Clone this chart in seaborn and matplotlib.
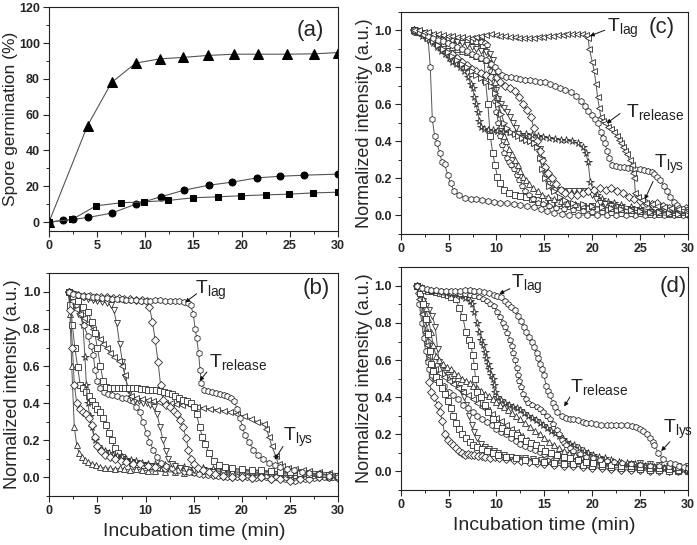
import matplotlib
matplotlib.use("Agg")
import matplotlib.pyplot as plt
import seaborn as sns
from matplotlib.ticker import MultipleLocator

# ---------------- panel (a): spore germination ----------------
A_TRI = [(0, 0), (4.0, 53.9), (6.5, 78.0), (9.0, 88.8), (11.5, 91.2), (13.9, 92.0), (16.5, 93.1),
         (19.2, 93.8), (21.7, 93.8), (24.7, 93.8), (27.5, 94.0), (30, 94.7)]
A_CIRC = [(0, 0), (1.5, 0.9), (2.5, 1.5), (4.1, 2.6), (6.5, 5.0), (9.0, 10.0), (11.6, 14.1),
          (14.0, 17.8), (16.6, 20.6), (19.0, 22.3), (21.6, 24.7), (24.0, 25.6), (26.5, 26.2), (30, 26.8)]
A_SQ = [(0, 0), (2.4, 1.5), (4.9, 9.1), (7.5, 10.8), (9.9, 11.3), (12.4, 12.1), (15.0, 13.6),
        (17.5, 14.1), (19.9, 14.7), (22.5, 15.2), (24.9, 15.6), (27.4, 16.3), (30, 16.7)]

# ---------------- panel (b) ----------------
B_TRI_UP = [(2.0, 1.0), (2.15, 0.88), (2.33, 0.6), (2.6, 0.27), (2.85, 0.175), (3.1, 0.13), (3.4, 0.11),
            (3.7, 0.095), (4.0, 0.085), (4.4, 0.075), (4.8, 0.065), (5.3, 0.055), (5.8, 0.05), (6.3, 0.05),
            (6.8, 0.045), (7.3, 0.05), (7.8, 0.045), (8.4, 0.04), (9.0, 0.045), (9.6, 0.04), (10.3, 0.035),
            (11, 0.035), (12, 0.03), (13, 0.03), (14, 0.025), (15, 0.03), (16, 0.025), (17, 0.02), (18, 0.02),
            (19, 0.02), (20, 0.015), (21, 0.02), (22, 0.015), (23, 0.015), (24, 0.01), (25, 0.01), (26, 0.01),
            (27, 0.005), (28, 0.01), (29, 0.005), (30, 0.0)]
B_SQ_FAST = [(2.0, 1.0), (2.2, 0.93), (2.4, 0.82), (2.65, 0.7), (2.95, 0.595), (3.2, 0.5), (3.5, 0.48),
             (3.8, 0.46), (4.1, 0.44), (4.4, 0.41), (4.7, 0.39), (5.0, 0.37), (5.3, 0.35), (5.6, 0.32),
             (5.9, 0.28), (6.2, 0.24), (6.5, 0.2), (6.8, 0.16), (7.1, 0.13), (7.5, 0.11), (8.0, 0.09),
             (8.6, 0.08), (9.2, 0.07), (9.8, 0.065), (10.5, 0.06), (11.2, 0.055), (12, 0.05), (13, 0.045),
             (14, 0.045), (15, 0.04), (16, 0.04), (17, 0.035), (18, 0.035), (19, 0.03), (20, 0.03), (21, 0.03),
             (22, 0.025), (23, 0.025), (24, 0.02), (25, 0.02), (26, 0.02), (27, 0.015), (28, 0.015), (29, 0.01),
             (30, 0.01)]
B_STAR = [(2.0, 1.0), (2.4, 0.97), (2.8, 0.93), (3.2, 0.88), (3.5, 0.82), (3.7, 0.65), (3.85, 0.5), (4.0, 0.4),
          (4.2, 0.33), (4.4, 0.27), (4.75, 0.2), (5.1, 0.17), (5.45, 0.15), (5.8, 0.14), (6.2, 0.13), (6.6, 0.12),
          (7.0, 0.115), (7.5, 0.11), (8.0, 0.1), (8.5, 0.095), (9.0, 0.09), (9.6, 0.08), (10.2, 0.075), (11, 0.07),
          (12, 0.065), (13, 0.06), (14, 0.055), (15, 0.05), (16, 0.05), (17, 0.045), (18, 0.045), (19, 0.04),
          (20, 0.04), (21, 0.035), (22, 0.035), (23, 0.03), (24, 0.03), (25, 0.025), (26, 0.025), (27, 0.02),
          (28, 0.02), (29, 0.015), (30, 0.01)]
B_DIAM_FAST = [(2.0, 1.0), (2.2, 0.9), (2.4, 0.7), (2.6, 0.5), (2.85, 0.4), (3.2, 0.37), (3.5, 0.355), (3.8, 0.34),
               (4.1, 0.32), (4.4, 0.28), (4.7, 0.22), (5.0, 0.17), (5.4, 0.14), (5.8, 0.12), (6.3, 0.11), (6.8, 0.1),
               (7.4, 0.09), (8.0, 0.085), (8.7, 0.075), (9.4, 0.07), (10.2, 0.06), (11, 0.055), (12, 0.05),
               (13, 0.04), (14, 0.035), (15, 0.03), (16, 0.02), (17, 0.015), (18, 0.01), (19, 0.005), (20, 0.0),
               (21, -0.005), (22, 0.0), (23, -0.01), (24, -0.005), (25, -0.01), (26, -0.005), (27, 0.0),
               (28, 0.0), (29, 0.005), (30, 0.0)]
B_HEX_MID = [(2.0, 1.0), (2.4, 0.97), (2.8, 0.93), (3.2, 0.88), (3.6, 0.82), (4.0, 0.76), (4.3, 0.71), (4.57, 0.66),
             (4.75, 0.58), (5.0, 0.52), (5.3, 0.48), (5.7, 0.46), (6.1, 0.45), (6.5, 0.445), (7.0, 0.44), (7.5, 0.43),
             (8.0, 0.43), (8.4, 0.42), (8.7, 0.41), (9.0, 0.38), (9.4, 0.35), (9.7, 0.3), (10.1, 0.24), (10.4, 0.19),
             (10.8, 0.15), (11.2, 0.11), (11.6, 0.08), (12.1, 0.06), (12.7, 0.05), (13.5, 0.04), (14.5, 0.03),
             (15.5, 0.02), (16.5, 0.015), (17.5, 0.01), (18.5, 0.005), (19.5, 0.0), (20.5, 0.0), (21.5, -0.005),
             (22.5, 0.0), (23.5, 0.0), (24.5, -0.01), (25.5, -0.02), (26.5, -0.01), (27.5, -0.005), (28.5, 0.0),
             (29.5, 0.005), (30, 0.0)]
B_TRI_DOWN = [(2.0, 1.0), (2.5, 0.99), (3.0, 0.98), (3.5, 0.97), (4.0, 0.96), (4.5, 0.955), (5.0, 0.95),
              (5.5, 0.945), (6.0, 0.94), (6.4, 0.93), (6.7, 0.9), (7.0, 0.83), (7.3, 0.72), (7.6, 0.62), (7.9, 0.54),
              (8.2, 0.47), (8.5, 0.43), (8.9, 0.42), (9.3, 0.41), (9.7, 0.4), (10.1, 0.4), (10.5, 0.39), (10.9, 0.38),
              (11.2, 0.34), (11.5, 0.27), (11.8, 0.2), (12.1, 0.14), (12.35, 0.1), (12.7, 0.07), (13.1, 0.06),
              (13.6, 0.05), (14.2, 0.045), (15, 0.04), (16, 0.035), (17, 0.03), (18, 0.03), (19, 0.025), (20, 0.025),
              (21, 0.02), (22, 0.02), (23, 0.015), (24, 0.015), (25, 0.01), (26, 0.01), (27, 0.005), (28, 0.005),
              (29, 0.0), (30, 0.0)]
B_TRI_LEFT = [(2.0, 1.0), (2.4, 0.95), (2.8, 0.91), (3.2, 0.88), (3.6, 0.86), (4.06, 0.83), (4.5, 0.8), (4.9, 0.77),
              (5.3, 0.745), (5.6, 0.72), (6.0, 0.695), (6.3, 0.67), (6.7, 0.65), (7.2, 0.63), (7.6, 0.6), (7.9, 0.55),
              (8.2, 0.47), (8.5, 0.44), (9.0, 0.43), (9.6, 0.425), (10.2, 0.42), (10.8, 0.41), (11.4, 0.405),
              (12, 0.4), (12.6, 0.4), (13.2, 0.395), (13.8, 0.39), (14.6, 0.39), (15.3, 0.38), (16, 0.375),
              (16.7, 0.37), (17.4, 0.365), (18.1, 0.36), (18.8, 0.35), (19.5, 0.34), (20.2, 0.33), (20.9, 0.315),
              (21.6, 0.3), (22.25, 0.29), (22.55, 0.26), (22.8, 0.22), (23.1, 0.17), (23.5, 0.115), (23.8, 0.07),
              (24.2, 0.06), (24.8, 0.05), (25.5, 0.045), (26.3, 0.04), (27, 0.035), (28, 0.03), (29, 0.025),
              (30, 0.02)]
B_DIAM = [(2.0, 1.0), (2.5, 0.99), (3.0, 0.985), (3.6, 0.98), (4.2, 0.98), (4.8, 0.975), (5.4, 0.97), (6.0, 0.97),
          (6.6, 0.965), (7.2, 0.965), (7.8, 0.96), (8.4, 0.96), (9.0, 0.955), (9.6, 0.955), (10.1, 0.95),
          (10.4, 0.92), (10.7, 0.84), (11.0, 0.74), (11.3, 0.62), (11.55, 0.5), (11.8, 0.42), (12.1, 0.39),
          (12.5, 0.38), (12.9, 0.36), (13.3, 0.34), (13.6, 0.31), (13.9, 0.27), (14.2, 0.21), (14.45, 0.15),
          (14.7, 0.1), (15.0, 0.07), (15.4, 0.05), (16, 0.04), (16.6, 0.03), (17.2, 0.02), (18, 0.01), (19, 0.005),
          (20, 0.0), (21, -0.005), (22, 0.0), (23, -0.01), (24, -0.01), (25, -0.02), (26, -0.01), (27, -0.01),
          (28, 0.0), (29, 0.0), (30, -0.005)]
B_SQ_MID = [(2.0, 1.0), (2.5, 0.98), (3.0, 0.95), (3.5, 0.92), (4.0, 0.89), (4.4, 0.84), (4.7, 0.78), (5.0, 0.7),
            (5.3, 0.6), (5.6, 0.52), (5.9, 0.49), (6.3, 0.48), (6.7, 0.48), (7.1, 0.48), (7.5, 0.48), (7.9, 0.48),
            (8.3, 0.48), (8.7, 0.48), (9.1, 0.48), (9.5, 0.475), (9.9, 0.475), (10.3, 0.47), (10.7, 0.47),
            (11.1, 0.47), (11.5, 0.465), (11.9, 0.46), (12.3, 0.455), (12.7, 0.45), (13.1, 0.44), (13.5, 0.43),
            (13.9, 0.42), (14.3, 0.41), (14.7, 0.4), (15.0, 0.38), (15.3, 0.34), (15.6, 0.27), (15.9, 0.22),
            (16.2, 0.18), (16.6, 0.13), (17.1, 0.087), (17.6, 0.065), (18.2, 0.055), (19, 0.05), (20, 0.045),
            (21, 0.04), (22, 0.04), (23, 0.035), (24, 0.03), (25, 0.03), (26, 0.025), (27, 0.02), (28, 0.02),
            (29, 0.015), (30, 0.01)]
B_HEX_TLAG = [(2.0, 1.0), (2.5, 0.99), (3.0, 0.985), (3.5, 0.98), (4.0, 0.98), (4.5, 0.975), (5.0, 0.97),
              (5.5, 0.965), (6.0, 0.965), (6.5, 0.96), (7.0, 0.96), (7.5, 0.96), (8.0, 0.955), (8.5, 0.955),
              (9.0, 0.955), (9.5, 0.95), (10.0, 0.95), (10.5, 0.95), (11.0, 0.955), (11.5, 0.955), (12.0, 0.95),
              (12.5, 0.95), (13.0, 0.95), (13.5, 0.95), (14.0, 0.945), (14.4, 0.94), (14.67, 0.93), (14.95, 0.88),
              (15.15, 0.8), (15.3, 0.75), (15.5, 0.67), (15.65, 0.58), (15.8, 0.51), (16.1, 0.47), (16.5, 0.465),
              (16.9, 0.46), (17.3, 0.455), (17.7, 0.45), (18.1, 0.445), (18.5, 0.44), (18.9, 0.43), (19.2, 0.41),
              (19.5, 0.37), (19.8, 0.32), (20.05, 0.27), (20.3, 0.23), (20.7, 0.19), (21.2, 0.15), (21.7, 0.12),
              (22.2, 0.1), (22.8, 0.08), (23.4, 0.065), (24, 0.055), (24.7, 0.045), (25.4, 0.04), (26.2, 0.03),
              (27, 0.025), (28, 0.02), (29, 0.01), (30, 0.0)]

# ---------------- panel (c) ----------------
C_HEX_FAST = [(1.4, 0.99), (1.7, 1.0), (2.0, 0.99), (2.3, 0.98), (2.6, 0.97), (2.85, 0.96), (3.09, 0.8), (3.3, 0.52),
              (3.54, 0.43), (3.8, 0.39), (4.06, 0.34), (4.3, 0.29), (4.58, 0.28), (4.9, 0.22), (5.2, 0.175),
              (5.6, 0.13), (6.1, 0.11), (6.7, 0.095), (7.3, 0.09), (7.9, 0.09), (8.5, 0.085), (9.1, 0.08),
              (9.7, 0.075), (10.4, 0.07), (11.1, 0.065), (11.8, 0.06), (12.5, 0.055), (13.2, 0.05), (13.9, 0.045),
              (14.6, 0.035), (15.3, 0.025), (16, 0.015), (16.8, 0.01), (17.6, 0.005), (18.5, 0.005), (19.5, 0.0),
              (20.5, 0.0), (21.5, 0.005), (22.5, 0.0), (23.5, 0.0), (24.5, 0.005), (25.5, 0.0), (26.5, 0.0),
              (27.5, 0.005), (28.5, 0.0), (29.5, 0.0), (30, 0.0)]
C_STAR = [(1.4, 1.0), (1.8, 0.99), (2.2, 0.97), (2.6, 0.96), (3.0, 0.95), (3.4, 0.93), (3.8, 0.91), (4.2, 0.89),
          (4.6, 0.87), (5.0, 0.85), (5.4, 0.83), (5.8, 0.82), (6.2, 0.8), (6.6, 0.78), (7.0, 0.75), (7.3, 0.71),
          (7.5, 0.69), (7.7, 0.64), (7.85, 0.6), (8.05, 0.56), (8.2, 0.51), (8.4, 0.48), (8.7, 0.465), (9.1, 0.46),
          (9.6, 0.46), (10.1, 0.455), (10.7, 0.45), (11.3, 0.45), (11.9, 0.445), (12.5, 0.44), (13.1, 0.44),
          (13.7, 0.435), (14.3, 0.43), (14.9, 0.425), (15.5, 0.42), (16.1, 0.415), (16.7, 0.41), (17.3, 0.405),
          (17.9, 0.4), (18.5, 0.39), (19.0, 0.37), (19.3, 0.34), (19.57, 0.29), (19.8, 0.18), (20.1, 0.14),
          (20.5, 0.11), (21, 0.09), (21.6, 0.075), (22.3, 0.065), (23, 0.055), (24, 0.045), (25, 0.04), (26, 0.03),
          (27, 0.025), (28, 0.02), (29, 0.015), (30, 0.01)]
C_SQ = [(1.4, 1.0), (1.8, 0.99), (2.2, 0.985), (2.6, 0.98), (3.0, 0.975), (3.5, 0.97), (4.0, 0.965), (4.5, 0.96),
        (5.0, 0.96), (5.5, 0.955), (6.0, 0.95), (6.5, 0.95), (7.0, 0.945), (7.5, 0.94), (8.0, 0.94), (8.4, 0.935),
        (8.6, 0.92), (8.85, 0.73), (9.1, 0.6), (9.35, 0.43), (9.6, 0.34), (9.85, 0.27), (10.1, 0.21), (10.4, 0.175),
        (10.8, 0.14), (11.3, 0.12), (11.9, 0.11), (12.5, 0.105), (13.1, 0.1), (13.7, 0.09), (14.3, 0.085),
        (15, 0.08), (15.7, 0.07), (16.4, 0.065), (17.2, 0.06), (18, 0.055), (19, 0.05), (20, 0.05), (21, 0.045),
        (22, 0.04), (23, 0.035), (24, 0.03), (25, 0.025), (26, 0.02), (27, 0.015), (28, 0.015), (29, 0.01),
        (30, 0.01)]
C_PENT = [(1.4, 1.0), (1.9, 0.99), (2.4, 0.98), (2.9, 0.97), (3.4, 0.965), (3.9, 0.96), (4.4, 0.955), (4.9, 0.95),
          (5.4, 0.95), (5.9, 0.945), (6.4, 0.945), (6.9, 0.94), (7.4, 0.94), (7.9, 0.935), (8.4, 0.935),
          (8.8, 0.93), (9.0, 0.92), (9.2, 0.85), (9.4, 0.78), (9.6, 0.7), (9.8, 0.62), (10.0, 0.56), (10.2, 0.5),
          (10.4, 0.43), (10.6, 0.38), (10.8, 0.34), (11.05, 0.31), (11.3, 0.29), (11.55, 0.27), (11.8, 0.25),
          (12.1, 0.22), (12.4, 0.19), (12.7, 0.16), (13.0, 0.13), (13.4, 0.11), (13.8, 0.09), (14.3, 0.07),
          (14.9, 0.06), (15.5, 0.05), (16.2, 0.04), (17, 0.035), (18, 0.03), (19, 0.025), (20, 0.02), (21, 0.02),
          (22, 0.015), (23, 0.01), (24, 0.01), (25, 0.01), (26, 0.005), (27, 0.005), (28, 0.0), (29, 0.0),
          (30, 0.0)]
C_TRI_DOWN = [(1.4, 1.0), (1.9, 0.99), (2.4, 0.98), (2.9, 0.97), (3.4, 0.96), (3.9, 0.955), (4.4, 0.95),
              (4.9, 0.945), (5.4, 0.94), (5.9, 0.935), (6.4, 0.93), (6.9, 0.92), (7.4, 0.91), (7.9, 0.9),
              (8.4, 0.89), (8.9, 0.88), (9.3, 0.87), (9.6, 0.84), (9.8, 0.75), (10.0, 0.68), (10.2, 0.63),
              (10.5, 0.6), (10.8, 0.58), (11.1, 0.56), (11.4, 0.53), (11.7, 0.5), (12.0, 0.47), (12.3, 0.44),
              (12.6, 0.42), (12.9, 0.41), (13.3, 0.4), (13.7, 0.39), (14.1, 0.38), (14.5, 0.36), (14.8, 0.3),
              (15.1, 0.22), (15.4, 0.17), (15.7, 0.15), (16.1, 0.14), (16.6, 0.135), (17.1, 0.13), (17.6, 0.13),
              (18.1, 0.13), (18.6, 0.13), (19.1, 0.13), (19.6, 0.125), (20.0, 0.11), (20.4, 0.09), (20.8, 0.07),
              (21.3, 0.06), (22, 0.05), (23, 0.04), (24, 0.03), (25, 0.025), (26, 0.02), (27, 0.02), (28, 0.015),
              (29, 0.01), (30, 0.01)]
C_DIAM = [(1.4, 1.0), (1.9, 0.99), (2.4, 0.98), (2.9, 0.96), (3.4, 0.95), (3.9, 0.93), (4.4, 0.91), (4.9, 0.89),
          (5.4, 0.87), (5.9, 0.85), (6.4, 0.83), (6.9, 0.81), (7.4, 0.79), (7.9, 0.78), (8.4, 0.77), (8.9, 0.76),
          (9.4, 0.75), (9.9, 0.74), (10.4, 0.72), (10.9, 0.7), (11.4, 0.69), (11.9, 0.67), (12.4, 0.64),
          (12.8, 0.6), (13.2, 0.57), (13.6, 0.53), (13.9, 0.47), (14.2, 0.4), (14.5, 0.35), (14.8, 0.3),
          (15.1, 0.26), (15.4, 0.23), (15.8, 0.2), (16.2, 0.17), (16.7, 0.14), (17.2, 0.12), (17.8, 0.11),
          (18.4, 0.11), (19.0, 0.12), (19.6, 0.13), (20.2, 0.14), (20.8, 0.15), (21.4, 0.14), (22.0, 0.15),
          (22.6, 0.13), (23.2, 0.12), (23.8, 0.1), (24.4, 0.09), (25.0, 0.08), (25.6, 0.07), (26.2, 0.06),
          (26.8, 0.07), (27.4, 0.05), (28.0, 0.04), (28.6, 0.05), (29.2, 0.03), (29.8, 0.04)]
C_TRI_TLAG = [(1.4, 1.0), (1.9, 1.0), (2.4, 0.99), (2.9, 0.99), (3.4, 0.98), (3.9, 0.98), (4.4, 0.975), (4.9, 0.97),
              (5.4, 0.97), (5.9, 0.965), (6.4, 0.965), (6.9, 0.96), (7.4, 0.96), (7.9, 0.965), (8.4, 0.97),
              (8.9, 0.975), (9.4, 0.98), (9.9, 0.975), (10.4, 0.97), (10.9, 0.97), (11.4, 0.965), (11.9, 0.965),
              (12.4, 0.96), (12.9, 0.96), (13.4, 0.96), (13.9, 0.96), (14.4, 0.965), (14.9, 0.965), (15.4, 0.97),
              (15.9, 0.97), (16.4, 0.975), (16.9, 0.975), (17.4, 0.98), (17.9, 0.98), (18.4, 0.98), (18.9, 0.98),
              (19.3, 0.975), (19.56, 0.96), (19.7, 0.9), (20.0, 0.83), (20.2, 0.78), (20.4, 0.71), (20.55, 0.64),
              (20.75, 0.58), (20.9, 0.53), (21.1, 0.51), (21.3, 0.5), (21.6, 0.48), (21.95, 0.465), (22.3, 0.45),
              (22.55, 0.43), (22.8, 0.41), (23.0, 0.39), (23.2, 0.37), (23.4, 0.35), (23.6, 0.33), (23.9, 0.3),
              (24.2, 0.27), (24.3, 0.23), (24.4, 0.2), (24.5, 0.12), (24.8, 0.1), (25.2, 0.085), (25.6, 0.07),
              (26.2, 0.06), (26.8, 0.05), (27.5, 0.045), (28.2, 0.04), (29, 0.035), (30, 0.03)]
C_CIRC_REL = [(1.4, 1.0), (1.9, 0.99), (2.4, 0.98), (2.9, 0.97), (3.4, 0.96), (3.9, 0.95), (4.4, 0.94), (4.9, 0.93),
              (5.4, 0.92), (5.9, 0.91), (6.4, 0.9), (6.9, 0.89), (7.4, 0.87), (7.9, 0.86), (8.4, 0.85), (8.9, 0.84),
              (9.4, 0.82), (9.8, 0.8), (10.2, 0.78), (10.6, 0.76), (11.0, 0.75), (11.5, 0.745), (12.0, 0.74),
              (12.5, 0.735), (13.0, 0.73), (13.5, 0.73), (14.0, 0.725), (14.5, 0.72), (15.05, 0.72), (15.6, 0.71),
              (16.1, 0.7), (16.6, 0.69), (17.2, 0.68), (17.8, 0.667), (18.3, 0.645), (18.8, 0.62), (19.2, 0.59),
              (19.6, 0.565), (20.0, 0.54), (20.3, 0.52), (20.6, 0.5), (20.9, 0.45), (21.1, 0.42), (21.3, 0.39),
              (21.55, 0.35), (21.8, 0.31), (22.1, 0.27), (22.5, 0.265), (22.9, 0.26), (23.3, 0.26), (23.7, 0.255),
              (24.1, 0.255), (24.5, 0.25), (25.0, 0.25), (25.4, 0.245), (25.8, 0.24), (26.2, 0.235), (26.5, 0.225),
              (26.8, 0.21), (27.1, 0.19), (27.5, 0.16), (27.8, 0.13), (28.1, 0.1), (28.5, 0.075), (28.8, 0.055),
              (29.1, 0.04), (29.5, 0.035), (29.9, 0.03)]
C_TRI_UP = [(1.4, 1.0), (1.9, 0.99), (2.4, 0.98), (2.9, 0.97), (3.4, 0.95), (3.9, 0.94), (4.4, 0.93), (4.9, 0.92),
            (5.4, 0.91), (5.9, 0.9), (6.4, 0.89), (6.9, 0.88), (7.4, 0.87), (7.9, 0.86), (8.4, 0.85), (8.9, 0.84),
            (9.3, 0.82), (9.6, 0.78), (9.85, 0.72), (10.1, 0.64), (10.3, 0.56), (10.5, 0.49), (10.75, 0.43),
            (11.0, 0.4), (11.3, 0.36), (11.6, 0.33), (11.9, 0.3), (12.2, 0.27), (12.5, 0.24), (12.8, 0.21),
            (13.1, 0.19), (13.4, 0.17), (13.8, 0.15), (14.3, 0.13), (14.8, 0.11), (15.4, 0.1), (16, 0.09),
            (16.7, 0.08), (17.4, 0.07), (18.2, 0.06), (19, 0.055), (20, 0.05), (21, 0.045), (22, 0.04), (23, 0.035),
            (24, 0.03), (25, 0.025), (26, 0.02), (27, 0.02), (28, 0.015), (29, 0.01), (30, 0.01)]
C_TRI_RIGHT = [(1.4, 1.0), (1.9, 0.99), (2.4, 0.975), (2.9, 0.96), (3.4, 0.94), (3.9, 0.92), (4.4, 0.9), (4.9, 0.88),
               (5.4, 0.86), (5.9, 0.84), (6.4, 0.82), (6.9, 0.8), (7.4, 0.78), (7.9, 0.76), (8.4, 0.74), (8.9, 0.72),
               (9.4, 0.7), (9.8, 0.66), (10.2, 0.6), (10.5, 0.55), (10.8, 0.5), (11.1, 0.47), (11.5, 0.45),
               (11.9, 0.44), (12.3, 0.43), (12.7, 0.42), (13.1, 0.41), (13.5, 0.4), (13.9, 0.39), (14.2, 0.37),
               (14.5, 0.31), (14.8, 0.25), (15.1, 0.2), (15.5, 0.16), (16, 0.13), (16.6, 0.1), (17.2, 0.085),
               (18, 0.07), (19, 0.06), (20, 0.05), (21, 0.045), (22, 0.04), (23, 0.035), (24, 0.03), (25, 0.025),
               (26, 0.02), (27, 0.02), (28, 0.015), (29, 0.01), (30, 0.01)]

# ---------------- panel (d) ----------------
D_CIRC_TLAG = [(1.7, 1.0), (2.2, 0.99), (2.7, 0.985), (3.2, 0.98), (3.7, 0.98), (4.2, 0.975), (4.7, 0.975),
               (5.2, 0.97), (5.7, 0.97), (6.2, 0.975), (6.7, 0.98), (7.2, 0.98), (7.7, 0.975), (8.2, 0.97),
               (8.7, 0.965), (9.2, 0.96), (9.7, 0.95), (10.1, 0.945), (10.5, 0.94), (10.85, 0.92), (11.2, 0.9),
               (11.55, 0.885), (11.9, 0.87), (12.25, 0.84), (12.6, 0.81), (12.85, 0.78), (13.1, 0.75), (13.4, 0.725),
               (13.7, 0.7), (13.95, 0.67), (14.2, 0.64), (14.35, 0.61), (14.5, 0.58), (14.75, 0.55), (14.95, 0.52),
               (15.2, 0.46), (15.4, 0.435), (15.6, 0.41), (15.9, 0.37), (16.1, 0.345), (16.3, 0.32), (16.8, 0.3),
               (17.3, 0.29), (17.7, 0.285), (18.0, 0.28), (18.5, 0.275), (19.0, 0.265), (19.4, 0.26), (19.9, 0.26),
               (20.4, 0.255), (20.9, 0.25), (21.5, 0.25), (22.0, 0.25), (22.5, 0.25), (23.0, 0.25), (23.6, 0.25),
               (24.1, 0.245), (24.6, 0.24), (25.0, 0.23), (25.3, 0.22), (25.7, 0.2), (26.0, 0.18), (26.3, 0.16),
               (26.5, 0.14), (26.9, 0.1), (27.4, 0.065), (28.1, 0.045), (28.6, 0.04), (29.1, 0.03), (29.6, 0.025),
               (30, 0.02)]
D_PENT = [(1.7, 1.0), (2.2, 0.99), (2.7, 0.98), (3.2, 0.975), (3.7, 0.97), (4.2, 0.97), (4.7, 0.965), (5.2, 0.96),
          (5.7, 0.96), (6.2, 0.955), (6.7, 0.955), (7.2, 0.95), (7.7, 0.945), (8.2, 0.94), (8.6, 0.93), (9.0, 0.92),
          (9.35, 0.9), (9.7, 0.89), (10.05, 0.86), (10.4, 0.83), (10.65, 0.8), (10.9, 0.78), (11.15, 0.745),
          (11.4, 0.71), (11.6, 0.675), (11.75, 0.64), (11.9, 0.6), (12.1, 0.56), (12.25, 0.52), (12.4, 0.49),
          (12.6, 0.455), (12.8, 0.42), (13.05, 0.39), (13.3, 0.37), (13.75, 0.36), (14.2, 0.35), (14.55, 0.335),
          (14.9, 0.32), (15.25, 0.3), (15.6, 0.28), (15.95, 0.255), (16.3, 0.225), (16.55, 0.2), (16.8, 0.17),
          (17.05, 0.155), (17.3, 0.14), (17.65, 0.125), (18.0, 0.11), (18.7, 0.095), (19.4, 0.08), (20.1, 0.07),
          (20.8, 0.06), (21.5, 0.055), (22.3, 0.05), (23.1, 0.045), (24, 0.04), (25, 0.035), (26, 0.03),
          (27, 0.03), (28, 0.025), (29, 0.02), (30, 0.02)]
D_STAR = [(1.7, 1.0), (2.2, 0.99), (2.7, 0.98), (3.2, 0.975), (3.7, 0.97), (4.2, 0.965), (4.7, 0.96), (5.2, 0.955),
          (5.7, 0.95), (6.2, 0.945), (6.7, 0.935), (7.2, 0.92), (7.45, 0.9), (7.7, 0.86), (7.95, 0.8), (8.2, 0.75),
          (8.4, 0.71), (8.55, 0.68), (8.75, 0.645), (8.9, 0.61), (9.1, 0.58), (9.25, 0.55), (9.45, 0.52),
          (9.6, 0.5), (9.7, 0.465), (9.8, 0.43), (10.1, 0.4), (10.5, 0.385), (10.9, 0.37), (11.3, 0.36),
          (11.7, 0.35), (12.1, 0.34), (12.5, 0.33), (12.9, 0.315), (13.3, 0.3), (13.7, 0.29), (14.1, 0.275),
          (14.5, 0.26), (14.9, 0.25), (15.3, 0.235), (15.7, 0.22), (16.1, 0.205), (16.5, 0.19), (16.9, 0.175),
          (17.3, 0.16), (17.7, 0.15), (18.1, 0.14), (18.6, 0.125), (19.1, 0.11), (19.6, 0.1), (20.1, 0.09),
          (20.7, 0.08), (21.3, 0.07), (22, 0.06), (22.8, 0.05), (23.6, 0.045), (24.5, 0.04), (25.5, 0.03),
          (26.5, 0.025), (27.5, 0.02), (28.5, 0.015), (29.5, 0.01), (30, 0.01)]
D_SQ = [(1.7, 1.0), (2.1, 0.99), (2.5, 0.98), (2.9, 0.975), (3.3, 0.97), (3.7, 0.965), (4.1, 0.96), (4.5, 0.955),
        (4.9, 0.95), (5.3, 0.94), (5.8, 0.93), (6.1, 0.88), (6.5, 0.83), (6.8, 0.75), (7.1, 0.71), (7.35, 0.68),
        (7.5, 0.63), (7.7, 0.57), (7.8, 0.5), (8.0, 0.43), (8.4, 0.4), (8.75, 0.36), (9.1, 0.32), (9.6, 0.28),
        (10.1, 0.25), (10.6, 0.235), (11.1, 0.22), (11.6, 0.205), (12.1, 0.195), (12.6, 0.18), (13.1, 0.165),
        (13.6, 0.155), (14.1, 0.14), (14.6, 0.125), (15.1, 0.11), (15.7, 0.1), (16.3, 0.09), (17, 0.08),
        (17.7, 0.07), (18.5, 0.06), (19.3, 0.05), (20.1, 0.045), (21, 0.04), (22, 0.035), (23, 0.03), (24, 0.03),
        (25, 0.025), (26, 0.02), (27, 0.02), (28, 0.015), (29, 0.01), (30, 0.01)]
D_DIAM = [(1.7, 1.0), (1.95, 0.96), (2.2, 0.9), (2.5, 0.8), (2.8, 0.7), (2.95, 0.6), (3.0, 0.48), (3.2, 0.43),
          (3.5, 0.4), (3.85, 0.36), (4.1, 0.32), (4.35, 0.27), (4.6, 0.2), (4.9, 0.17), (5.2, 0.155), (5.45, 0.14),
          (5.8, 0.125), (6.1, 0.11), (6.4, 0.1), (6.7, 0.09), (7.0, 0.095), (7.3, 0.09), (7.7, 0.09), (8.1, 0.085),
          (8.5, 0.085), (8.8, 0.08), (9.3, 0.075), (9.8, 0.08), (10.3, 0.07), (11, 0.065), (11.8, 0.06),
          (12.6, 0.055), (13.4, 0.05), (14.2, 0.045), (15, 0.04), (16, 0.035), (17, 0.03), (18, 0.03), (19, 0.025),
          (20, 0.02), (21, 0.02), (22, 0.015), (23, 0.01), (24, 0.01), (25, 0.01), (26, 0.005), (27, 0.005),
          (28, 0.0), (29, 0.0), (30, 0.0)]
D_TRI_DOWN = [(1.7, 1.0), (2.0, 0.95), (2.3, 0.92), (2.6, 0.89), (3.0, 0.87), (3.3, 0.84), (3.6, 0.78), (3.85, 0.66),
              (4.0, 0.59), (4.3, 0.56), (4.6, 0.54), (4.9, 0.52), (5.2, 0.51), (5.5, 0.49), (5.8, 0.47), (6.1, 0.45),
              (6.4, 0.43), (6.6, 0.4), (6.85, 0.36), (7.1, 0.3), (7.4, 0.25), (7.7, 0.21), (8.0, 0.18), (8.4, 0.15),
              (8.8, 0.13), (9.2, 0.12), (9.7, 0.11), (10.2, 0.1), (10.8, 0.09), (11.5, 0.08), (12.2, 0.075),
              (13, 0.07), (13.8, 0.065), (14.6, 0.06), (15.4, 0.055), (16.2, 0.05), (17, 0.05), (18, 0.045),
              (19, 0.04), (20, 0.04), (21, 0.035), (22, 0.03), (23, 0.035), (24, 0.04), (25, 0.045), (26, 0.04),
              (27, 0.035), (28, 0.03), (29, 0.03), (30, 0.03)]
D_TRI_UP = [(1.7, 1.0), (2.0, 0.97), (2.3, 0.93), (2.6, 0.88), (2.9, 0.82), (3.15, 0.75), (3.4, 0.68), (3.7, 0.62),
            (4.0, 0.6), (4.4, 0.58), (4.8, 0.565), (5.2, 0.55), (5.6, 0.53), (6.0, 0.52), (6.4, 0.5), (6.8, 0.49),
            (7.2, 0.475), (7.6, 0.46), (8.0, 0.45), (8.4, 0.435), (8.8, 0.42), (9.2, 0.405), (9.6, 0.39),
            (10.0, 0.375), (10.4, 0.36), (10.8, 0.345), (11.2, 0.33), (11.6, 0.315), (12.0, 0.3), (12.5, 0.28),
            (13.0, 0.26), (13.5, 0.24), (14.0, 0.22), (14.5, 0.2), (15.0, 0.18), (15.5, 0.16), (16.0, 0.14),
            (16.5, 0.125), (17.0, 0.11), (17.6, 0.1), (18.2, 0.09), (18.8, 0.08), (19.4, 0.075), (20, 0.07),
            (20.7, 0.065), (21.4, 0.06), (22.2, 0.055), (23, 0.05), (24, 0.045), (25, 0.04), (26, 0.035),
            (27, 0.03), (28, 0.03), (29, 0.025), (30, 0.02)]
D_HEX_FAST = [(1.7, 1.0), (1.95, 0.9), (2.2, 0.8), (2.4, 0.72), (2.6, 0.65), (2.8, 0.59), (3.0, 0.55), (3.3, 0.52),
              (3.6, 0.5), (4.0, 0.48), (4.5, 0.46), (5.0, 0.43), (5.5, 0.41), (6.0, 0.39), (6.5, 0.36), (7.0, 0.34),
              (7.5, 0.32), (8.0, 0.3), (8.5, 0.28), (9.0, 0.265), (9.5, 0.25), (10.0, 0.23), (10.5, 0.215),
              (11.0, 0.2), (11.5, 0.18), (12.0, 0.165), (12.5, 0.15), (13.0, 0.135), (13.5, 0.125), (14.0, 0.115),
              (14.5, 0.105), (15.0, 0.095), (15.6, 0.085), (16.2, 0.075), (16.8, 0.07), (17.5, 0.06), (18.2, 0.055),
              (19, 0.05), (20, 0.045), (21, 0.04), (22, 0.035), (23, 0.03), (24, 0.03), (25, 0.025), (26, 0.02),
              (27, 0.02), (28, 0.015), (29, 0.01), (30, 0.01)]
D_TRI_LEFT = [(1.7, 1.0), (1.95, 0.93), (2.2, 0.85), (2.5, 0.75), (2.75, 0.68), (3.0, 0.62), (3.3, 0.57), (3.6, 0.55),
              (4.0, 0.53), (4.5, 0.51), (5.0, 0.49), (5.5, 0.47), (6.0, 0.45), (6.5, 0.43), (7.0, 0.41), (7.5, 0.39),
              (8.0, 0.37), (8.5, 0.35), (9.0, 0.33), (9.5, 0.31), (10.0, 0.29), (10.5, 0.27), (11.0, 0.25),
              (11.5, 0.23), (12.0, 0.21), (12.5, 0.19), (13.0, 0.17), (13.5, 0.155), (14.0, 0.14), (14.5, 0.125),
              (15.0, 0.11), (15.6, 0.1), (16.2, 0.09), (16.8, 0.08), (17.5, 0.07), (18.2, 0.06), (19, 0.055),
              (20, 0.05), (21, 0.04), (22, 0.035), (23, 0.03), (24, 0.025), (25, 0.02), (26, 0.02), (27, 0.015),
              (28, 0.01), (29, 0.01), (30, 0.01)]
D_SQ_FAST = [(1.7, 1.0), (2.0, 0.96), (2.3, 0.9), (2.6, 0.82), (2.85, 0.74), (3.05, 0.65), (3.2, 0.58), (3.4, 0.54),
             (3.7, 0.51), (4.0, 0.48), (4.3, 0.45), (4.6, 0.42), (4.9, 0.38), (5.2, 0.34), (5.5, 0.3), (5.8, 0.26),
             (6.1, 0.23), (6.4, 0.2), (6.8, 0.18), (7.2, 0.16), (7.6, 0.145), (8.0, 0.13), (8.5, 0.12), (9.0, 0.11),
             (9.6, 0.1), (10.2, 0.09), (11, 0.08), (12, 0.07), (13, 0.06), (14, 0.055), (15, 0.05), (16, 0.045),
             (17, 0.04), (18, 0.04), (19, 0.035), (20, 0.03), (21, 0.03), (22, 0.025), (23, 0.02), (24, 0.02),
             (25, 0.015), (26, 0.01), (27, 0.01), (28, 0.005), (29, 0.005), (30, 0.0)]

# annotations: text position (x, baseline y), arrow tail, arrow tip
LABELS_B = [("lag", (15.17, 0.99), (15.3, 0.99), (14.1, 0.943)),
            ("release", (16.6, 0.595), (16.36, 0.568), (15.6, 0.52)),
            ("lys", (24.3, 0.194), (24.26, 0.167), (23.4, 0.096))]
LABELS_C = [("lag", (21.5, 0.99), (21.3, 1.0), (19.75, 0.969)),
            ("release", (23.5, 0.53), (22.9, 0.55), (21.5, 0.497)),
            ("lys", (26.5, 0.255), (26.35, 0.184), (25.48, 0.086))]
LABELS_D = [("lag", (11.5, 0.99), (11.4, 0.985), (10.3, 0.957)),
            ("release", (17.66, 0.43), (17.66, 0.40), (17.07, 0.35)),
            ("lys", (27.4, 0.207), (28.1, 0.16), (27.2, 0.11))]


def draw_curves(ax, curves):
    for pts, mk in curves:
        xs = [p[0] for p in pts]
        ys = [p[1] for p in pts]
        ms = 5.4 if mk == '*' else 4.4
        sns.lineplot(x=xs, y=ys, ax=ax, sort=False, estimator=None, color='#555555', lw=0.7,
                     marker=mk, markersize=ms, markerfacecolor='white', markeredgecolor='#2e2e2e',
                     markeredgewidth=0.6)


def style_ax(ax, ymin, ymax, ymaj, ymin_step):
    ax.set_xlim(0, 30)
    ax.set_ylim(ymin, ymax)
    ax.xaxis.set_major_locator(MultipleLocator(5))
    ax.xaxis.set_minor_locator(MultipleLocator(2.5))
    ax.yaxis.set_major_locator(MultipleLocator(ymaj))
    ax.yaxis.set_minor_locator(MultipleLocator(ymin_step))
    ax.tick_params(which='major', direction='out', length=4, width=0.8, labelsize=9, pad=2.5)
    ax.tick_params(which='minor', direction='out', length=2.2, width=0.7)
    for lab in ax.get_xticklabels() + ax.get_yticklabels():
        lab.set_fontweight('bold')
    for s in ax.spines.values():
        s.set_visible(True)
        s.set_linewidth(0.8)
        s.set_color('#222222')


def add_labels(ax, labels):
    for sub, (tx, ty), tail, tip in labels:
        ax.text(tx, ty, r'T$_{\mathrm{' + sub + '}}$', fontsize=14, color='#222222', va='baseline', ha='left')
        ax.annotate('', xy=tip, xytext=tail,
                    arrowprops=dict(arrowstyle='-|>', color='#111111', lw=0.7, mutation_scale=6,
                                    shrinkA=0, shrinkB=0))


sns.set_style('ticks')
plt.rcParams['font.family'] = ['Liberation Sans', 'DejaVu Sans']
plt.rcParams['mathtext.fontset'] = 'custom'
plt.rcParams['mathtext.rm'] = 'Liberation Sans'
plt.rcParams['mathtext.it'] = 'Liberation Sans:italic'

fig = plt.figure(figsize=(6.97, 5.45), dpi=100)
ax_a = fig.add_axes([0.0703, 0.5761, 0.4146, 0.4105])
ax_c = fig.add_axes([0.5749, 0.5706, 0.4122, 0.4079])
ax_b = fig.add_axes([0.0707, 0.0899, 0.4146, 0.4086])
ax_d = fig.add_axes([0.5749, 0.1009, 0.4122, 0.4086])

# panel (a)
for pts, mk, ms in [(A_TRI, '^', 6.5), (A_CIRC, 'o', 5), (A_SQ, 's', 5)]:
    sns.lineplot(x=[p[0] for p in pts], y=[p[1] for p in pts], ax=ax_a, sort=False, estimator=None,
                 color='#555555', lw=0.8, marker=mk, markersize=ms, markerfacecolor='black',
                 markeredgecolor='black')
style_ax(ax_a, -5, 120, 20, 10)
ax_a.set_ylabel('Spore germination (%)', fontsize=12.5, labelpad=1)
ax_a.set_xlabel('')

draw_curves(ax_b, [(B_TRI_UP, '^'), (B_SQ_FAST, 's'), (B_STAR, '*'), (B_DIAM_FAST, 'D'), (B_HEX_MID, 'h'),
                   (B_TRI_DOWN, 'v'), (B_TRI_LEFT, '<'), (B_DIAM, 'D'), (B_SQ_MID, 's'), (B_HEX_TLAG, 'h')])
draw_curves(ax_c, [(C_HEX_FAST, 'h'), (C_STAR, '*'), (C_SQ, 's'), (C_PENT, 'p'), (C_TRI_DOWN, 'v'),
                   (C_DIAM, 'D'), (C_TRI_UP, '^'), (C_TRI_RIGHT, '>'), (C_CIRC_REL, 'h'), (C_TRI_TLAG, '<')])
draw_curves(ax_d, [(D_DIAM, 'D'), (D_TRI_DOWN, 'v'), (D_TRI_UP, '^'), (D_HEX_FAST, 'h'), (D_TRI_LEFT, '<'),
                   (D_SQ_FAST, 's'), (D_SQ, 's'), (D_STAR, '*'), (D_PENT, 'p'), (D_CIRC_TLAG, 'h')])

for ax, labels in [(ax_b, LABELS_B), (ax_c, LABELS_C), (ax_d, LABELS_D)]:
    style_ax(ax, -0.1, 1.1, 0.2, 0.1)
    ax.set_ylabel('Normalized intensity (a.u.)', fontsize=13, labelpad=1)
    ax.set_xlabel('')
    add_labels(ax, labels)

ax_b.set_xlabel('Incubation time (min)', fontsize=14)
ax_d.set_xlabel('Incubation time (min)', fontsize=14)

for ax, txt, pos in [(ax_a, '(a)', (0.906, 0.895)), (ax_b, '(b)', (0.923, 0.934)),
                     (ax_c, '(c)', (0.91, 0.927)), (ax_d, '(d)', (0.949, 0.916))]:
    ax.text(pos[0], pos[1], txt, transform=ax.transAxes, fontsize=16, ha='center', va='center')

fig.savefig('out.png', dpi=100)
